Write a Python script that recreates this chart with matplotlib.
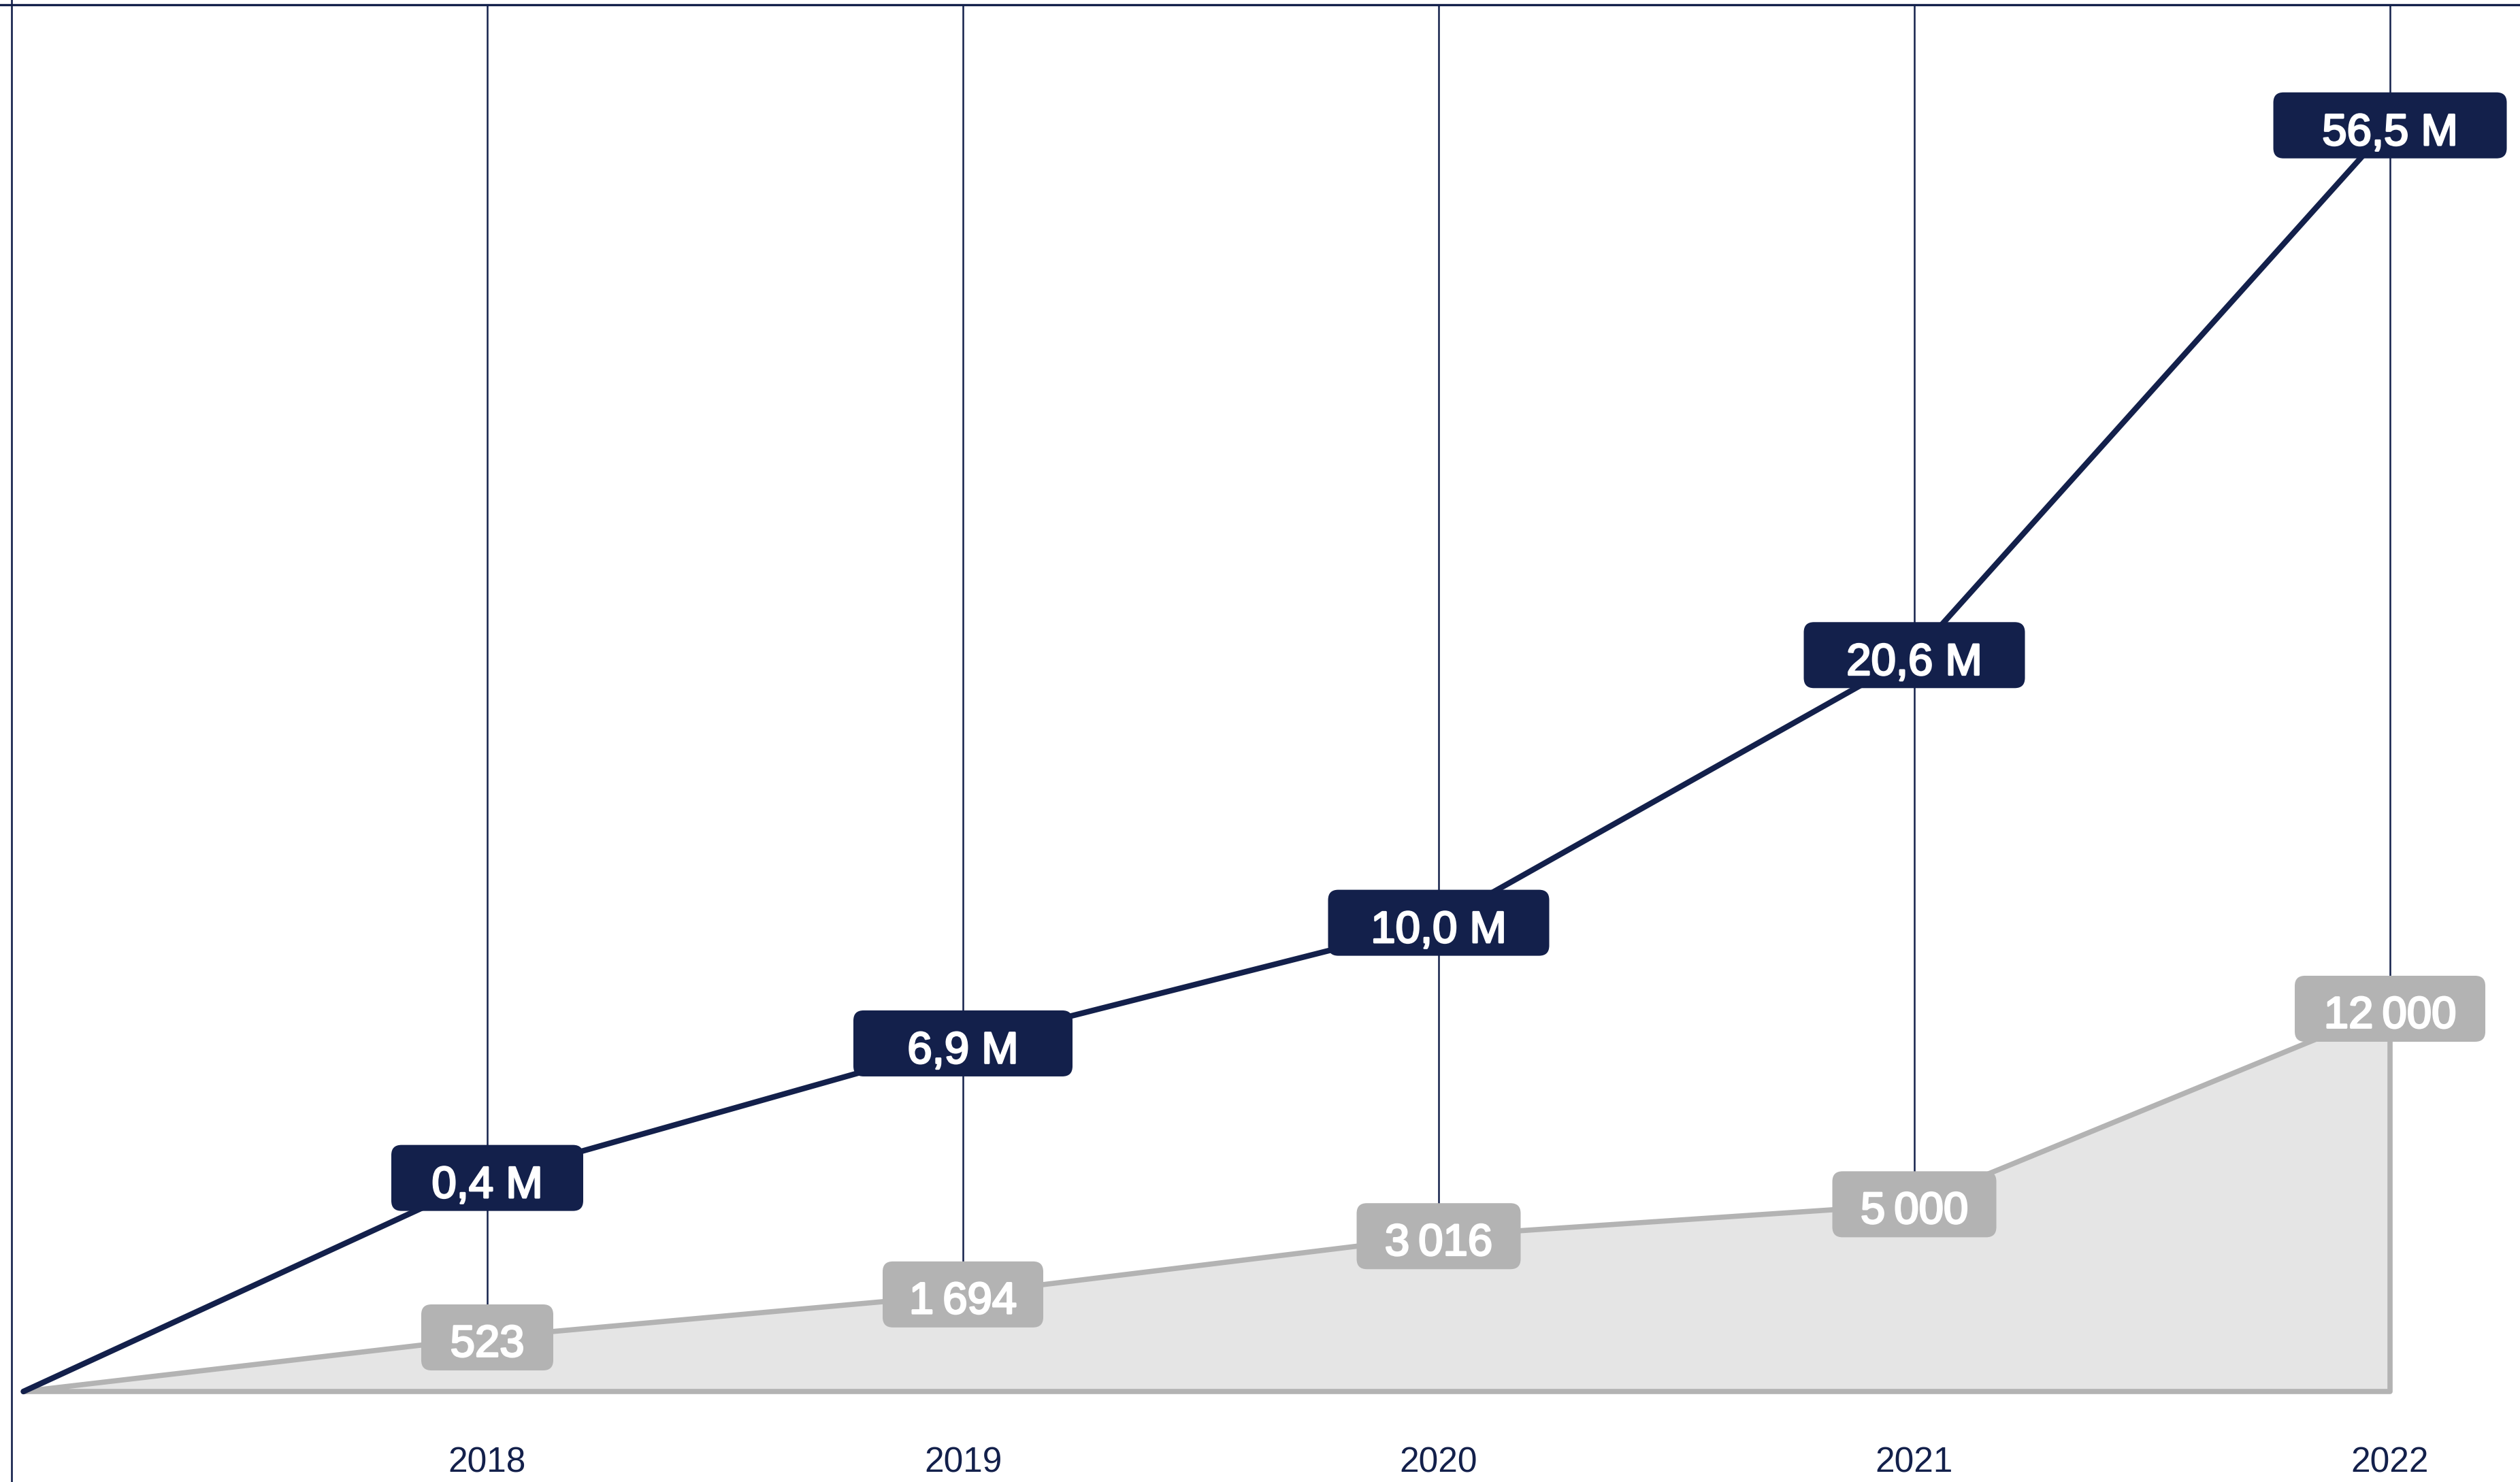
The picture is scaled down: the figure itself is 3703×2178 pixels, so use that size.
import matplotlib
matplotlib.use("Agg")
import matplotlib.pyplot as plt
from matplotlib import transforms
from matplotlib import patheffects
from matplotlib.patches import FancyBboxPatch

# ---------------- data ----------------
years = [2018, 2019, 2020, 2021, 2022]
year_labels = ["2018", "2019", "2020", "2021", "2022"]

volume_labels = ["0,4 M", "6,9 M", "10,0 M", "20,6 M", "56,5 M"]
# curve heights (0 = baseline, 100 = top rule)
volume_levels = [15.4, 25.1, 33.8, 53.1, 91.3]

count_labels = ["523", "1\u2009694", "3\u2009016", "5\u2009000", "12\u2009000"]
count_levels = [3.9, 7.0, 11.2, 13.5, 27.6]

start_year = 2017          # left rule
start_point = 2017.025     # where both curves start
start_level = 0

# ---------------- style ----------------
NAVY = "#13204b"
GREY_LINE = "#b3b3b3"
GREY_FILL = "#e5e5e5"
dark_box_w = [282, 322, 325, 325, 343]   # px
grey_box_w = [194, 236, 241, 241, 280]   # px
BOX_H = 97
FONT = ["Liberation Sans", "DejaVu Sans"]

fig = plt.figure(figsize=(37.03, 21.78), dpi=100)
ax = fig.add_axes([0, 0, 1, 1])
ax.set_xlim(2016.9757, 2022.2732)
ax.set_ylim(-6.526, 100.34)
ax.axis("off")

# rules
ax.axhline(100, color=NAVY, lw=2.4, zorder=1)
ax.axvline(start_year, color=NAVY, lw=1.9, zorder=1)
ax.vlines(years, 0, 100, color=NAVY, lw=1.8, zorder=1)

# grey area
xs = [start_point] + years
gs = [start_level] + count_levels
ax.fill_between(xs, 0, gs, color=GREY_FILL, lw=0, zorder=2)
ax.plot(xs + [years[-1], start_point], gs + [0, 0], color=GREY_LINE, lw=5.5,
        solid_joinstyle="round", solid_capstyle="round", zorder=3)

# navy line
vs = [start_level] + volume_levels
ax.plot(xs, vs, color=NAVY, lw=6, solid_capstyle="round", solid_joinstyle="round", zorder=4)

bold_fx = [patheffects.withStroke(linewidth=2.0, foreground="white")]


def label_box(x, y, text, width, face, z, text_dy):
    trans = transforms.IdentityTransform() + transforms.ScaledTranslation(x, y, ax.transData)
    patch = FancyBboxPatch((-width / 2, -BOX_H / 2), width, BOX_H,
                           boxstyle="round,pad=0,rounding_size=15",
                           facecolor=face, edgecolor="none", transform=trans, zorder=z)
    ax.add_artist(patch)
    ttrans = transforms.offset_copy(ax.transData, fig=fig, x=0, y=text_dy, units="dots")
    ax.text(x, y, text, transform=ttrans, ha="center", va="baseline", color="white",
            fontsize=47, family=FONT, zorder=z + 1, path_effects=bold_fx)


for x, y, t, w in zip(years, count_levels, count_labels, grey_box_w):
    label_box(x, y, t, w, GREY_LINE, 5, -28)

for x, y, t, w in zip(years, volume_levels, volume_labels, dark_box_w):
    label_box(x, y, t, w, NAVY, 7, -29)

# year labels
for x, t in zip(years, year_labels):
    ax.text(x, -5.8, t, ha="center", va="baseline", color=NAVY, fontsize=37, family=FONT)

fig.savefig("out.png", dpi=100, facecolor="white")
